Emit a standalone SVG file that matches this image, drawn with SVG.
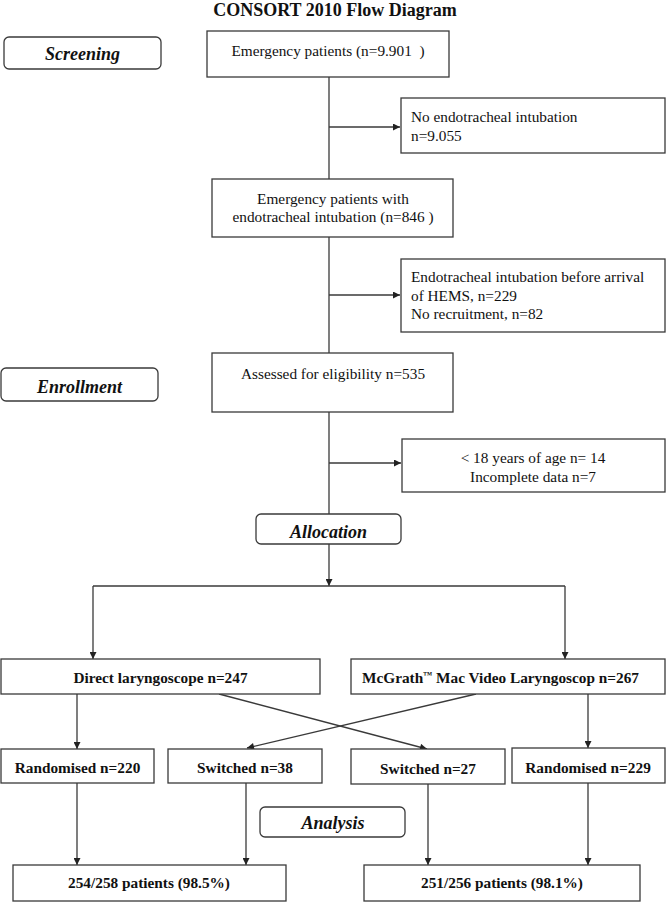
<svg xmlns="http://www.w3.org/2000/svg" width="666" height="902" viewBox="0 0 666 902">
<style>
.box{fill:#fff;stroke:#3a3a3a;stroke-width:1.3}
.stage{fill:#fff;stroke:#3a3a3a;stroke-width:1.3}
.t{font-family:"Liberation Serif","Times New Roman",serif;font-size:15.3px;fill:#111}
.b{font-weight:bold}
.stg{font-family:"Liberation Serif","Times New Roman",serif;font-size:18px;font-weight:bold;font-style:italic;fill:#111}
.title{font-family:"Liberation Serif","Times New Roman",serif;font-size:18px;font-weight:bold;fill:#111}
.c{text-anchor:middle}
.ln{fill:none;stroke:#3a3a3a;stroke-width:1.3}
</style>
<defs>
<marker id="ah" viewBox="0 0 10 10" refX="10" refY="5" markerUnits="userSpaceOnUse" markerWidth="8" markerHeight="7" orient="auto">
<path d="M0,0 L10,5 L0,10 z" fill="#222"/>
</marker>
</defs>
<text class="title c" x="335" y="16">CONSORT 2010 Flow Diagram</text>
<g id="connectors">
<line class="ln" x1="329" y1="77" x2="329" y2="179"/>
<line class="ln" x1="329" y1="127" x2="400" y2="127" marker-end="url(#ah)"/>
<line class="ln" x1="329" y1="237" x2="329" y2="353"/>
<line class="ln" x1="329" y1="295" x2="400" y2="295" marker-end="url(#ah)"/>
<line class="ln" x1="329" y1="412" x2="329" y2="514"/>
<line class="ln" x1="329" y1="463" x2="401" y2="463" marker-end="url(#ah)"/>
<line class="ln" x1="329" y1="544" x2="329" y2="586" marker-end="url(#ah)"/>
<line class="ln" x1="93" y1="586" x2="565" y2="586"/>
<line class="ln" x1="93" y1="586" x2="93" y2="659" marker-end="url(#ah)"/>
<line class="ln" x1="565" y1="586" x2="565" y2="659" marker-end="url(#ah)"/>
<line class="ln" x1="77" y1="694" x2="77" y2="749" marker-end="url(#ah)"/>
<line class="ln" x1="588" y1="694" x2="588" y2="748" marker-end="url(#ah)"/>
<line class="ln" x1="219" y1="694" x2="427" y2="749" marker-end="url(#ah)"/>
<line class="ln" x1="476" y1="694" x2="247" y2="748" marker-end="url(#ah)"/>
<line class="ln" x1="77" y1="783" x2="77" y2="865" marker-end="url(#ah)"/>
<line class="ln" x1="246" y1="783" x2="246" y2="865" marker-end="url(#ah)"/>
<line class="ln" x1="428" y1="784" x2="428" y2="865" marker-end="url(#ah)"/>
<line class="ln" x1="588" y1="783" x2="588" y2="865" marker-end="url(#ah)"/>
</g>
<g id="screening">
<rect class="stage" x="4" y="37" width="157" height="32" rx="5"/>
<text class="stg c" x="82.5" y="60">Screening</text>
</g>
<g id="emergency">
<rect class="box" x="207" y="31" width="242" height="46"/>
<text class="t c" x="328" y="56" xml:space="preserve">Emergency patients (n=9.901  )</text>
</g>
<g id="no-intubation">
<rect class="box" x="401" y="98" width="264" height="55"/>
<text class="t" x="411" y="122">No endotracheal intubation</text>
<text class="t" x="411" y="141">n=9.055</text>
</g>
<g id="intubated">
<rect class="box" x="212" y="179" width="241" height="58"/>
<text class="t c" x="333" y="204">Emergency patients with</text>
<text class="t c" x="333" y="222">endotracheal intubation (n=846 )</text>
</g>
<g id="excluded1">
<rect class="box" x="401" y="259" width="264" height="73"/>
<text class="t" x="411" y="282">Endotracheal intubation before arrival</text>
<text class="t" x="411" y="300.5">of HEMS, n=229</text>
<text class="t" x="411" y="319">No recruitment, n=82</text>
</g>
<g id="enrollment">
<rect class="stage" x="1" y="368" width="157" height="33" rx="5"/>
<text class="stg c" x="79.5" y="393">Enrollment</text>
</g>
<g id="assessed">
<rect class="box" x="212" y="353" width="241" height="59"/>
<text class="t c" x="333" y="379">Assessed for eligibility n=535</text>
</g>
<g id="excluded2">
<rect class="box" x="402" y="439" width="263" height="53"/>
<text class="t c" x="533" y="463">&lt; 18 years of age n= 14</text>
<text class="t c" x="533" y="482">Incomplete data n=7</text>
</g>
<g id="allocation">
<rect class="stage" x="256" y="514" width="145" height="30" rx="5"/>
<text class="stg c" x="328.5" y="538">Allocation</text>
</g>
<g id="direct">
<rect class="box" x="1" y="659" width="319" height="35"/>
<text class="t b c" x="160.5" y="683">Direct laryngoscope n=247</text>
</g>
<g id="mcgrath">
<rect class="box" x="351" y="659" width="314" height="35"/>
<text class="t b c" x="500.5" y="683">McGrath<tspan font-size="9" dy="-5">™</tspan><tspan dy="5"> Mac Video Laryngoscop n=267</tspan></text>
</g>
<g id="rand220">
<rect class="box" x="1" y="749" width="153" height="34"/>
<text class="t b c" x="77.5" y="773">Randomised n=220</text>
</g>
<g id="switch38">
<rect class="box" x="168" y="749" width="154" height="34"/>
<text class="t b c" x="245" y="773">Switched n=38</text>
</g>
<g id="switch27">
<rect class="box" x="351" y="749" width="154" height="35"/>
<text class="t b c" x="428" y="774">Switched n=27</text>
</g>
<g id="rand229">
<rect class="box" x="512" y="748" width="153" height="35"/>
<text class="t b c" x="588" y="773">Randomised n=229</text>
</g>
<g id="analysis">
<rect class="stage" x="260" y="807" width="145" height="30" rx="5"/>
<text class="stg c" x="333" y="829">Analysis</text>
</g>
<g id="result-left">
<rect class="box" x="13" y="865" width="273" height="36"/>
<text class="t b c" x="149" y="888">254/258 patients (98.5%)</text>
</g>
<g id="result-right">
<rect class="box" x="364" y="865" width="276" height="36"/>
<text class="t b c" x="502" y="888">251/256 patients (98.1%)</text>
</g>
</svg>
